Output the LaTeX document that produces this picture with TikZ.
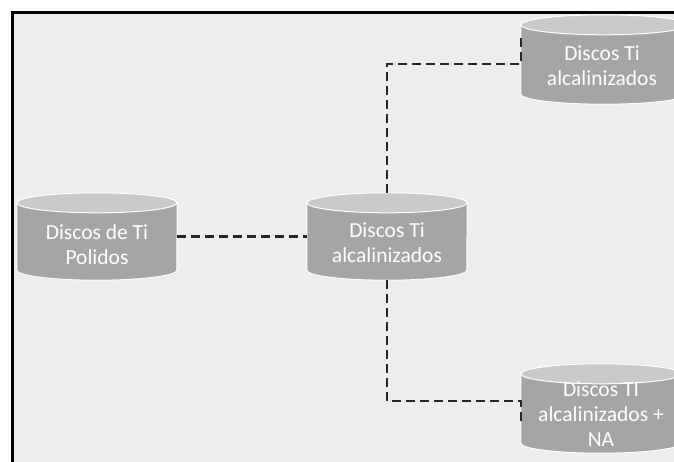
\documentclass[tikz,border=0pt]{standalone}
\usepackage{fontspec}
\setmainfont{Carlito}
\usepackage{xcolor}
\usetikzlibrary{positioning,calc}
\definecolor{panel}{HTML}{EDEDED}
\definecolor{canbody}{HTML}{A5A5A5}
\definecolor{cantop}{HTML}{C9C9C9}
\definecolor{linedark}{HTML}{262626}

\begin{document}
\begin{tikzpicture}[x=1pt, y=-1pt,
  disco/.style={minimum width=160pt, minimum height=87pt, inner sep=0pt},
  lata/.style={fill=canbody, draw=white, line width=1pt},
  tapa/.style={fill=cantop, draw=white, line width=1pt},
  rotulo/.style={text=white, align=center, font=\fontsize{21.5}{25}\selectfont},
  link/.style={draw=linedark, line width=2.4pt, dash pattern=on 8.5pt off 5.5pt}]
\useasboundingbox (0,0) rectangle (674,461);
\clip (0,0) rectangle (674,461);
\fill[white] (0,0) rectangle (674,461);
% Panel
\draw[line width=3pt, fill=panel] (12.5,12.5) rectangle (700,500);

% Cylinders
\node[disco] (L) at (97,236.5) {};
\node[disco] (M) at (387,236.5) {};
\node[disco, minimum width=166pt, minimum height=89pt] (T) at (604,59.5) {};
\node[disco, minimum height=89pt] (B) at (601,408.5) {};

\path[lata] ([yshift=-10pt]L.north west) -- ([yshift=10pt]L.south west) arc[start angle=180, end angle=0, x radius=80, y radius=10] -- ([yshift=-10pt]L.north east) -- cycle;
\path[tapa] ([yshift=-10pt]L.north) ellipse [x radius=80, y radius=10];
\path[lata] ([yshift=-10pt]M.north west) -- ([yshift=10pt]M.south west) arc[start angle=180, end angle=0, x radius=80, y radius=10] -- ([yshift=-10pt]M.north east) -- cycle;
\path[tapa] ([yshift=-10pt]M.north) ellipse [x radius=80, y radius=10];
\path[lata] ([yshift=-10pt]T.north west) -- ([yshift=10pt]T.south west) arc[start angle=180, end angle=0, x radius=83, y radius=10] -- ([yshift=-10pt]T.north east) -- cycle;
\path[tapa] ([yshift=-10pt]T.north) ellipse [x radius=83, y radius=10];
\path[lata] ([yshift=-10pt]B.north west) -- ([yshift=10pt]B.south west) arc[start angle=180, end angle=0, x radius=80, y radius=10] -- ([yshift=-10pt]B.north east) -- cycle;
\path[tapa] ([yshift=-10pt]B.north) ellipse [x radius=80, y radius=10];

% Labels
\node[rotulo] (Ltxt) at (97,245) {Discos de Ti\\Polidos};
\node[rotulo] (Mtxt) at (387,243) {Discos Ti\\alcalinizados};
\node[rotulo] (Ttxt) at (602,66) {Discos Ti\\alcalinizados};
\node[rotulo] (Btxt) at (601,414) {Discos TI\\alcalinizados +\\NA};

% Connectors
\coordinate (codoA) at (521,64);
\coordinate (finA) at (521,36);
\coordinate (codoB) at (521,401);
\coordinate (finB) at (521,423);
\draw[link] (L.east) -- (M.west);
\draw[link] (M.north) |- (codoA) -- (finA);
\draw[link] (M.south) |- (codoB) -- (finB);
\end{tikzpicture}
\end{document}
